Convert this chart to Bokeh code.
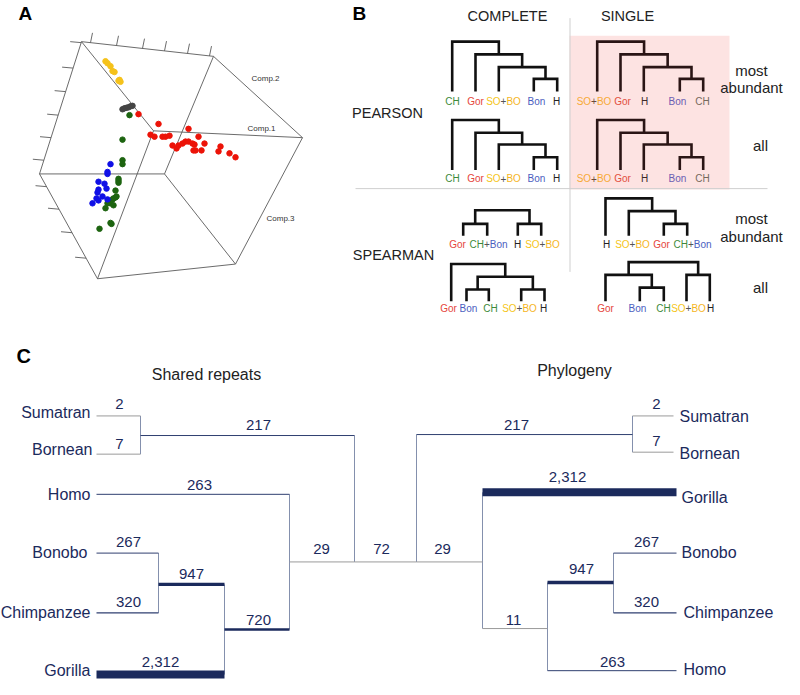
from bokeh.plotting import figure
from bokeh.models import Range1d
from bokeh.core.properties import value
from bokeh.embed import file_html
from bokeh.resources import INLINE

FONT = "Liberation Sans"

# ================= DATA =================
# --- Panel A: PCA scores, projected view of Comp.1 / Comp.2 / Comp.3
yellow_x = [105, 107, 110, 112, 114, 118, 120, 119]
yellow_y = [62, 64, 67, 72, 73, 82, 83, 81]
grey_x = [122, 124, 126, 128, 130, 132]
grey_y = [111, 110, 109.5, 109, 108, 107.5]
green_x = [129, 122, 122, 122, 118, 118, 118, 115, 115, 113, 112, 116, 110, 107, 113, 105, 110, 111, 99]
green_y = [117, 142, 163, 167, 182, 184, 186, 194, 201, 202, 203, 200, 207, 207, 209, 212, 227, 228, 233]
blue_x = [110, 107, 107, 98, 104, 106, 98, 97, 102, 96, 98, 107, 92]
blue_y = [167, 175, 177, 185, 187, 192, 193, 196, 200, 202, 204, 203, 207]
red_x = [138, 158, 188, 150, 154, 162, 165, 169, 172, 176, 178, 182, 185, 188, 192, 194, 198, 204, 193, 195, 201, 220, 218, 229, 235]
red_y = [116, 126, 131, 137, 139, 139, 139, 138, 148, 151, 148, 146, 144, 144, 146, 147, 139, 146, 153, 153, 153, 149, 154, 156, 160]
axis_names = ["Comp.1", "Comp.2", "Comp.3"]

# --- Panel B: dendrogram leaf orders
methods = ["COMPLETE", "SINGLE"]
correlations = ["PEARSON", "SPEARMAN"]
subsets = ["most", "abundant", "all"]
t_pc_most = ["CH", "Gor", "SO+BO", "Bon", "H"]
t_pc_all = ["CH", "Gor", "SO+BO", "Bon", "H"]
t_ps_most = ["SO+BO", "Gor", "H", "Bon", "CH"]
t_ps_all = ["SO+BO", "Gor", "H", "Bon", "CH"]
t_sc_most = ["Gor", "CH+Bon", "H", "SO+BO"]
t_ss_most = ["H", "SO+BO", "Gor", "CH+Bon"]
t_sc_all = ["Gor", "Bon", "CH", "SO+BO", "H"]
t_ss_all = ["Gor", "Bon", "CH", "SO+BO", "H"]

# --- Panel C: shared repeats / phylogeny branch counts
left_leaves = ["Sumatran", "Bornean", "Homo", "Bonobo", "Chimpanzee", "Gorilla"]
left_values = [2, 7, 217, 263, 267, 320, 947, 2312, 720, 29]
root_value = 72
right_leaves = ["Sumatran", "Bornean", "Gorilla", "Bonobo", "Chimpanzee", "Homo"]
right_values = [29, 217, 2, 7, 2312, 11, 947, 267, 320, 263]

# ================= LAYOUT =================
PW, PH = 784, 679
p = figure(width=PW, height=PH, x_range=Range1d(0, 784), y_range=Range1d(693, 0),
           output_backend="svg", toolbar_location=None, min_border=0,
           x_axis_type=None, y_axis_type=None)
p.grid.visible = False
p.outline_line_color = None
p.background_fill_color = "white"


def txt(x, y, s, size, color="#000000", align="center", baseline="middle", bold=False):
    p.text(x=[x], y=[y], text=[s], text_font=value(FONT),
           text_font_size=value(f"{size:.2f}px"), text_color=color,
           text_align=align, text_baseline=baseline,
           text_font_style="bold" if bold else "normal")


# panel letters
txt(18, 13, "A", 19, bold=True, align="left")
txt(352, 13, "B", 19, bold=True, align="left")
txt(16, 363, "C", 20, bold=True, align="left")

# ---------- Panel A ----------
V = {"tl": (81, 42), "tr": (213, 57), "r": (302, 140), "br": (235, 269),
     "bl": (97, 284), "l": (39, 177), "c": (164, 177), "b": (153, 133)}
edges = [("tl", "tr"), ("tr", "r"), ("r", "br"), ("br", "bl"), ("bl", "l"), ("l", "tl"),
         ("c", "l"), ("c", "br"), ("c", "tr"), ("b", "tl"), ("b", "r"), ("b", "bl")]
p.segment(x0=[V[a][0] for a, b in edges], y0=[V[a][1] for a, b in edges],
          x1=[V[b][0] for a, b in edges], y1=[V[b][1] for a, b in edges],
          line_color="#5a5a5a", line_width=0.9)
top_tx = [90, 116, 142, 164, 187, 209]
tx0, ty0, tx1, ty1 = [], [], [], []
for x in top_tx:
    ye = 42 + (x - 81) * 15 / 132.0
    tx0.append(x); ty0.append(ye); tx1.append(x + 2); ty1.append(ye - 10)
for y in [43, 69, 93, 117, 140, 163]:
    xe = 81 - (y - 42) * 42 / 135.0
    tx0.append(xe); ty0.append(y); tx1.append(xe - 11); ty1.append(y - 1)
for y in [190, 213, 237, 263]:
    xe = 39 + (y - 177) * 58 / 107.0
    tx0.append(xe); ty0.append(y); tx1.append(xe - 11); ty1.append(y - 1)
p.segment(x0=tx0, y0=ty0, x1=tx1, y1=ty1, line_color="#5a5a5a", line_width=0.9)

p.scatter(yellow_x, yellow_y, size=5.5, color="#f5c21b")
p.scatter(grey_x, grey_y, size=5.5, color="#444444")
p.scatter(green_x, green_y, size=5.5, color="#1d6410")
p.scatter(blue_x, blue_y, size=5.5, color="#1010e6")
p.scatter(red_x, red_y, size=5.5, color="#ec1308")
for name, (x, y) in zip(axis_names, [(261, 131), (265, 80), (280, 222)]):
    txt(x, y, name, 8, "#333333")

# ---------- Panel B ----------
p.quad(left=569, right=729, top=36, bottom=193, fill_color="#fde3e2", line_color=None)
p.segment(x0=[569.5, 355], y0=[18, 192], x1=[569.5, 767], y1=[277, 192],
          line_color="#cfcfcf", line_width=1)

txt(507, 16, methods[0], 14.5, "#222222")
txt(627, 16, methods[1], 14.5, "#222222")
txt(387, 115, correlations[0], 14.5, "#222222")
txt(393, 260, correlations[1], 14.5, "#222222")
for y0 in (71, 223):
    txt(751, y0, subsets[0], 15, "#222222")
    txt(751, y0 + 18, subsets[1], 15, "#222222")
txt(760, 148, subsets[2], 15, "#222222")
txt(760, 293, subsets[2], 15, "#222222")

GREEN, RED, GOLD, ORANGE, BLUE, DARK, PLUS = "#3c8a3a", "#e5463c", "#f5c518", "#f5b51e", "#4b5ec0", "#222222", "#555555"
PAL_C = {"CH": [("CH", GREEN)], "Gor": [("Gor", RED)],
         "SO+BO": [("SO", GOLD), ("+", PLUS), ("BO", ORANGE)],
         "Bon": [("Bon", BLUE)], "H": [("H", DARK)],
         "CH+Bon": [("CH", GREEN), ("+", PLUS), ("Bon", BLUE)]}
PAL_S = {"CH": [("CH", "#75695c")], "Gor": [("Gor", "#e2503e")],
         "SO+BO": [("SO", "#f7a935"), ("+", "#6a4a3a"), ("BO", "#f7a935")],
         "Bon": [("Bon", "#6b5db2")], "H": [("H", "#3a2a2a")]}
CW = {'S': .667, 'O': .778, '+': .584, 'B': .667, 'C': .722, 'H': .722,
      'G': .778, 'o': .556, 'r': .333, 'n': .556}


def leaf_label(xc, y, name, pal, size=10):
    pieces = pal[name]
    wpx = lambda s: sum(CW[c] for c in s) * size
    x = xc - sum(wpx(s) for s, _ in pieces) / 2
    for s, col in pieces:
        txt(x, y, s, size, col, align="left")
        x += wpx(s)


def dendro(leaves, leaf_x, bottom, merges, label_x, label_y, pal, color="#111111"):
    xs = list(leaf_x)
    ys = [bottom] * len(leaf_x)
    px, py = [], []
    for i, j, h in merges:
        px.append([xs[i], xs[i], xs[j], xs[j]])
        py.append([ys[i], h, h, ys[j]])
        xs.append((xs[i] + xs[j]) / 2)
        ys.append(h)
    p.multi_line(px, py, line_color=color, line_width=2.6, line_join="miter", line_cap="butt")
    for name, x in zip(leaves, label_x):
        leaf_label(x, label_y, name, pal)


LX_PC = [452, 475, 503, 536, 556]
LX_PS = [593.5, 622, 644, 677, 702]
dendro(t_pc_most, [451.7, 475, 498.3, 533.3, 556.7], 93,
       [(3, 4, 80), (2, 5, 68), (1, 6, 55), (0, 7, 42)], LX_PC, 103, PAL_C)
dendro(t_pc_all, [451.7, 475, 498.3, 533.3, 556.7], 173,
       [(3, 4, 160), (2, 5, 147), (1, 6, 135), (0, 7, 122)], LX_PC, 182, PAL_C)
dendro(t_ps_most, [596.7, 620, 643.3, 679.3, 702.7], 93,
       [(3, 4, 80), (2, 5, 68), (1, 6, 55), (0, 7, 42)], LX_PS, 103, PAL_S, "#2a1515")
dendro(t_ps_all, [596.7, 620, 643.3, 679.3, 702.7], 173,
       [(3, 4, 160), (2, 5, 147), (1, 6, 135), (0, 7, 122)], LX_PS, 182, PAL_S, "#2a1515")
dendro(t_sc_most, [462.7, 486.7, 517.3, 540.7], 240,
       [(0, 1, 228), (2, 3, 228), (4, 5, 214)], [457, 488, 517, 542], 249, PAL_C)
dendro(t_ss_most, [605, 628.3, 663.3, 686.7], 240,
       [(2, 3, 228), (1, 4, 215), (0, 5, 202)], [606, 632, 661, 692], 249, PAL_C)
dendro(t_sc_all, [450.7, 466, 488.3, 520.7, 544], 307,
       [(1, 2, 295), (3, 4, 295), (5, 6, 282), (0, 7, 269)], [448, 468, 490, 519, 543], 314, PAL_C)
dendro(t_ss_all, [605, 639.3, 663.3, 686, 709.3], 307,
       [(1, 2, 293), (0, 5, 280), (3, 4, 280), (6, 7, 267)], [605, 637, 663, 688, 710], 314, PAL_C)

# ---------- Panel C ----------
NAVY, THIN, VERT = "#1b2a5c", "#2f3f70", "#8490ad"
txt(206, 382, "Shared repeats", 16, "#222222")
txt(574, 378, "Phylogeny", 16, "#222222")


def width_of(v):
    return max(1.0, v / 290.0)


L_br = [(96, 140, 424), (96, 140, 463), (140, 354, 444), (96, 289, 504), (96, 158, 564),
        (96, 158, 625), (158, 224, 596), (96, 224, 688), (224, 289, 642), (289, 354, 573)]
L_lab = [(119, 412), (119, 453), (258, 433), (199, 494), (128, 553), (128, 614),
         (191, 585), (160, 675), (258, 632), (321, 560)]
L_vert = [(140, 424, 463), (354, 444, 573), (289, 504, 642), (158, 564, 625), (224, 596, 688)]
R_br = [(416, 482, 573), (416, 632, 443), (632, 673, 424), (632, 673, 461), (482, 676, 502),
        (482, 547, 641), (547, 613, 594), (613, 676, 564), (613, 676, 625), (547, 676, 684)]
R_lab = [(442, 560), (516, 433), (656, 412), (656, 450), (567, 486), (513, 632),
         (581, 580), (646, 553), (646, 614), (612, 675)]
R_vert = [(416, 443, 573), (632, 424, 461), (482, 502, 641), (547, 594, 684), (613, 564, 625)]

for verts in (L_vert, R_vert):
    p.segment(x0=[v[0] for v in verts], y0=[v[1] for v in verts],
              x1=[v[0] for v in verts], y1=[v[2] for v in verts],
              line_color=VERT, line_width=1)
p.segment(x0=[354], y0=[573], x1=[416], y1=[573], line_color="#9a9a9a", line_width=1)
txt(381, 560, f"{root_value:,}", 15, NAVY)

for br, lab, vals in ((L_br, L_lab, left_values), (R_br, R_lab, right_values)):
    for (x0, x1, y), (lx, ly), v in zip(br, lab, vals):
        w = width_of(v)
        col = NAVY if w > 1.5 else (THIN if v > 29 else "#9a9a9a")
        p.segment(x0=[x0], y0=[y], x1=[x1], y1=[y], line_color=col, line_width=w, line_cap="butt")
        txt(lx, ly, f"{v:,}", 15, NAVY)

for name, (x, y) in zip(left_leaves, [(90, 421), (92, 458), (90, 504), (87, 563), (90, 625), (90, 684)]):
    txt(x, y, name, 16, NAVY, align="right")
for name, (x, y) in zip(right_leaves, [(679, 425), (679, 462), (681, 507), (681, 563), (683, 625), (683, 683)]):
    txt(x, y, name, 16, NAVY, align="left")

open("out.html", "w").write(file_html(p, INLINE))
